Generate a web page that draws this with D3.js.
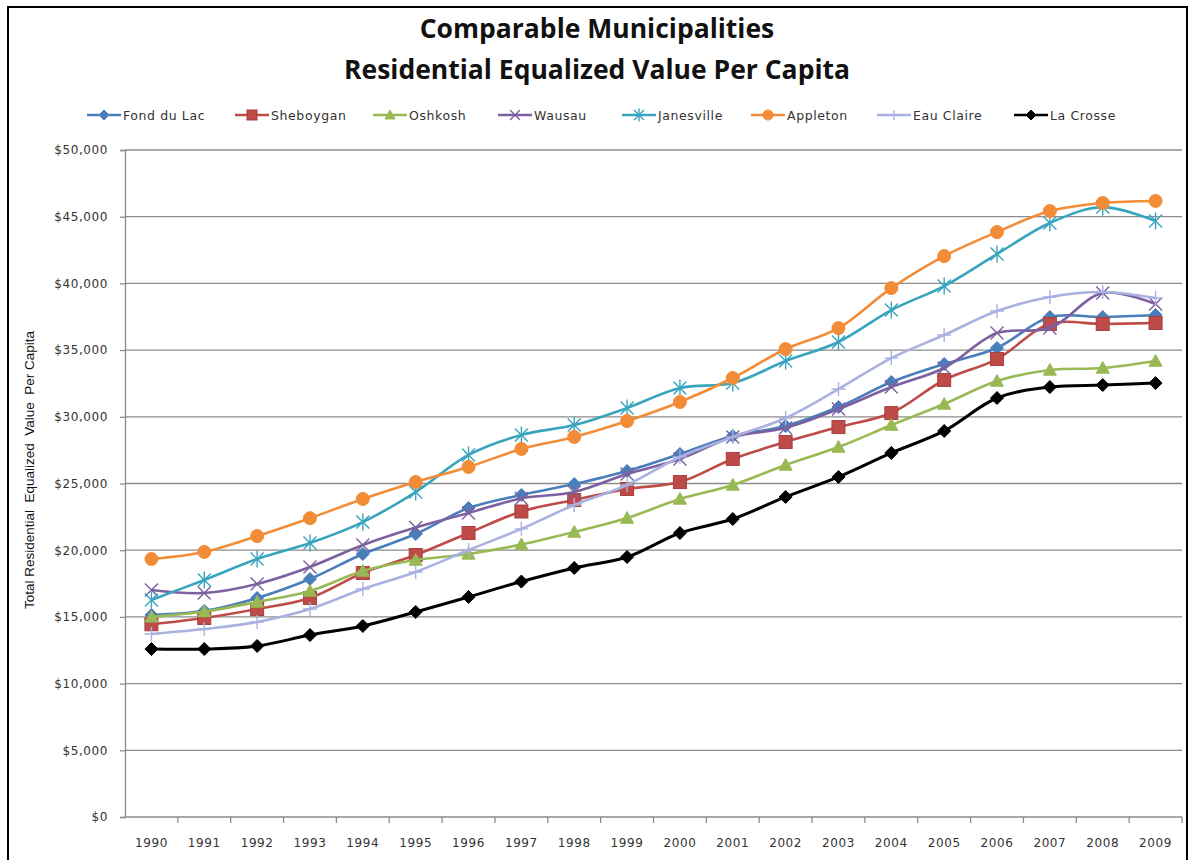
<!DOCTYPE html>
<html>
<head>
<meta charset="utf-8">
<script src="https://cdn.jsdelivr.net/npm/d3@7"></script>
<style>
  body { margin: 0; background: #fff; }
  svg { display: block; }
</style>
</head>
<body>
<script>
// Years on the category axis
var years = [1990, 1991, 1992, 1993, 1994, 1995, 1996, 1997, 1998, 1999,
             2000, 2001, 2002, 2003, 2004, 2005, 2006, 2007, 2008, 2009];

// Series values
var fondDuLac = [15140, 15450, 16420, 17840, 19710, 21210, 23160, 24140, 24960, 25940,
                 27210, 28560, 29310, 30730, 32610, 33960, 35160, 37480, 37480, 37630];
var sheboygan = [14450, 14920, 15590, 16420, 18290, 19640, 21290, 22900, 23760, 24590,
                 25110, 26840, 28110, 29230, 30280, 32760, 34330, 36960, 36960, 37030];
var oshkosh   = [15000, 15400, 16120, 16940, 18440, 19260, 19720, 20420, 21360, 22410,
                 23840, 24890, 26390, 27730, 29380, 30960, 32680, 33510, 33660, 34180];
var wausau    = [17020, 16790, 17470, 18740, 20390, 21700, 22790, 23880, 24360, 25710,
                 26840, 28490, 29160, 30580, 32230, 33660, 36280, 36650, 39280, 38450];
var janesville = [16270, 17770, 19340, 20540, 22110, 24360, 27140, 28640, 29380, 30660,
                  32160, 32530, 34180, 35610, 38000, 39800, 42200, 44530, 45720, 44680];
var appleton  = [19340, 19870, 21060, 22400, 23840, 25110, 26240, 27590, 28490, 29680,
                 31110, 32910, 35080, 36650, 39650, 42050, 43850, 45420, 46030, 46180];
var eauClaire = [13720, 14090, 14620, 15590, 17090, 18370, 20010, 21600, 23390, 24890,
                 26990, 28490, 29910, 32080, 34400, 36130, 37930, 38980, 39350, 38900];
var laCrosse  = [12590, 12590, 12820, 13640, 14320, 15370, 16490, 17650, 18670, 19490,
                 21290, 22340, 23990, 25490, 27290, 28940, 31410, 32230, 32380, 32530];

var seriesNames = ["Fond du Lac", "Sheboygan", "Oshkosh", "Wausau", "Janesville",
                   "Appleton", "Eau Claire", "La Crosse"];
var seriesValues = [fondDuLac, sheboygan, oshkosh, wausau, janesville, appleton, eauClaire, laCrosse];
var seriesColors = ["#4A7EBB", "#BE4B48", "#98B954", "#7D60A0", "#38A4BE",
                    "#F28C36", "#A9B1E0", "#000000"];
var seriesMarkers = ["diamond", "square", "triangle", "x", "star", "circle", "plus", "diamond"];

var yTicks = [0, 5000, 10000, 15000, 20000, 25000, 30000, 35000, 40000, 45000, 50000];

// Chart geometry
var width = 1191, height = 860;
var plot = {left: 125, right: 1182, top: 150, bottom: 817};
var labelFont = "'DejaVu Sans', sans-serif";

var svg = d3.select("body").append("svg")
    .attr("width", width)
    .attr("height", height);

// outer frame
svg.append("rect")
    .attr("x", 8).attr("y", 7)
    .attr("width", 1179).attr("height", 880)
    .attr("fill", "none")
    .attr("stroke", "#000")
    .attr("stroke-width", 2);

// Title
var title = svg.append("g").attr("font-family", "'Open Sans', 'Liberation Sans', sans-serif")
    .attr("font-weight", "bold").attr("font-size", 26.5).attr("fill", "#111")
    .attr("text-anchor", "middle");
title.append("text").attr("x", 597).attr("y", 38).text("Comparable Municipalities");
title.append("text").attr("x", 597).attr("y", 79).text("Residential Equalized Value Per Capita");

// Scales
var xScale = d3.scaleBand()
    .domain(years)
    .range([plot.left, plot.right]);

var yScale = d3.scaleLinear()
    .domain([0, 50000])
    .range([plot.bottom, plot.top]);

// Gridlines
svg.append("g")
    .selectAll("line")
    .data(yTicks.filter(function(d) { return d > 0; }))
    .enter().append("line")
    .attr("x1", plot.left).attr("x2", plot.right)
    .attr("y1", function(d) { return yScale(d); })
    .attr("y2", function(d) { return yScale(d); })
    .attr("stroke", "#8c8c8c")
    .attr("stroke-width", 1.3);

// Y axis
var yAxis = d3.axisLeft(yScale)
    .tickValues(yTicks)
    .tickSize(5)
    .tickPadding(12)
    .tickFormat(function(d) { return "$" + d3.format(",")(d); });

var gy = svg.append("g")
    .attr("transform", "translate(" + plot.left + ",0)")
    .call(yAxis);
gy.select(".domain").attr("stroke", "#8c8c8c").attr("stroke-width", 1.3);
gy.selectAll(".tick line").attr("stroke", "#8c8c8c").attr("stroke-width", 1.3);
gy.selectAll("text")
    .attr("font-family", labelFont)
    .attr("font-size", 12)
    .attr("letter-spacing", 0.6)
    .attr("fill", "#333");

// X axis: ticks between categories
var gx = svg.append("g")
    .attr("transform", "translate(0," + plot.bottom + ")");
gx.append("line")
    .attr("x1", plot.left).attr("x2", plot.right)
    .attr("stroke", "#8c8c8c").attr("stroke-width", 1.3);
gx.selectAll("line.tk")
    .data(years)
    .enter().append("line")
    .attr("class", "tk")
    .attr("x1", function(d) { return xScale(d) + xScale.bandwidth(); })
    .attr("x2", function(d) { return xScale(d) + xScale.bandwidth(); })
    .attr("y1", 0).attr("y2", 6)
    .attr("stroke", "#8c8c8c").attr("stroke-width", 1.3);
gx.selectAll("text")
    .data(years)
    .enter().append("text")
    .attr("x", function(d) { return xScale(d) + xScale.bandwidth() / 2; })
    .attr("y", 30)
    .attr("text-anchor", "middle")
    .attr("font-family", labelFont)
    .attr("font-size", 12)
    .attr("letter-spacing", 0.6)
    .attr("fill", "#333")
    .text(function(d) { return d; });

// Y axis title
svg.append("text")
    .attr("transform", "translate(34,470) rotate(-90)")
    .attr("text-anchor", "middle")
    .attr("font-family", "'Liberation Sans', sans-serif")
    .attr("font-size", 13.5)
    .attr("fill", "#111")
    .attr("xml:space", "preserve")
    .text("Total Residential  Equalized  Value  Per Capita");

// Marker drawing
function drawMarker(g, type, color, size) {
    var s = size;
    if (type == "diamond") {
        g.append("path").attr("d", "M0," + (-s) + "L" + s + ",0L0," + s + "L" + (-s) + ",0Z")
            .attr("fill", color).attr("stroke", color).attr("stroke-width", 1);
    } else if (type == "square") {
        g.append("rect").attr("x", -s).attr("y", -s).attr("width", 2 * s).attr("height", 2 * s)
            .attr("fill", color).attr("stroke", d3.color(color).darker(0.4)).attr("stroke-width", 1);
    } else if (type == "triangle") {
        g.append("path").attr("d", "M0," + (-s) + "L" + s + "," + (s * 0.8) + "L" + (-s) + "," + (s * 0.8) + "Z")
            .attr("fill", color).attr("stroke", color).attr("stroke-width", 1);
    } else if (type == "circle") {
        g.append("circle").attr("r", s).attr("fill", color).attr("stroke", color);
    } else if (type == "x" || type == "star") {
        g.append("path").attr("d", "M" + (-s) + "," + (-s) + "L" + s + "," + s + "M" + (-s) + "," + s + "L" + s + "," + (-s))
            .attr("stroke", color).attr("stroke-width", 1.4).attr("fill", "none");
        if (type == "star") {
            g.append("path").attr("d", "M0," + (-s * 1.3) + "L0," + (s * 1.3))
                .attr("stroke", color).attr("stroke-width", 1.4);
        }
    } else if (type == "plus") {
        g.append("path").attr("d", "M0," + (-s) + "L0," + s + "M" + (-s) + ",0L" + s + ",0")
            .attr("stroke", color).attr("stroke-width", 1.4);
    }
}

var markerSize = {diamond: 6.5, square: 6.5, triangle: 6.5, x: 6.5, star: 6.5, circle: 6.5, plus: 7};

// Lines
var line = d3.line()
    .x(function(d, i) { return xScale(years[i]) + xScale.bandwidth() / 2; })
    .y(function(d) { return yScale(d); })
    .curve(d3.curveCatmullRom.alpha(0.5));

seriesValues.forEach(function(vals, k) {
    var g = svg.append("g");
    g.append("path")
        .datum(vals)
        .attr("d", line)
        .attr("fill", "none")
        .attr("stroke", seriesColors[k])
        .attr("stroke-width", k == 7 ? 3 : 2.6);
    g.selectAll("g.m")
        .data(vals)
        .enter().append("g")
        .attr("class", "m")
        .attr("transform", function(d, i) {
            return "translate(" + (xScale(years[i]) + xScale.bandwidth() / 2) + "," + yScale(d) + ")";
        })
        .each(function() {
            drawMarker(d3.select(this), seriesMarkers[k], seriesColors[k], markerSize[seriesMarkers[k]]);
        });
});

// Legend (text start positions)
var legendX = [123, 271, 409, 534, 658, 787, 913, 1050];
var legend = svg.append("g");
seriesNames.forEach(function(name, k) {
    var lg = legend.append("g").attr("transform", "translate(" + legendX[k] + ",115)");
    lg.append("line").attr("x1", -36).attr("x2", -2)
        .attr("stroke", seriesColors[k]).attr("stroke-width", 2.6);
    var m = lg.append("g").attr("transform", "translate(-19,0)");
    drawMarker(m, seriesMarkers[k], seriesColors[k], 5);
    lg.append("text")
        .attr("x", 0).attr("y", 4.5)
        .attr("font-family", labelFont)
        .attr("font-size", 12.5)
        .attr("letter-spacing", 0.6)
        .attr("fill", "#333")
        .text(name);
});
</script>
</body>
</html>
